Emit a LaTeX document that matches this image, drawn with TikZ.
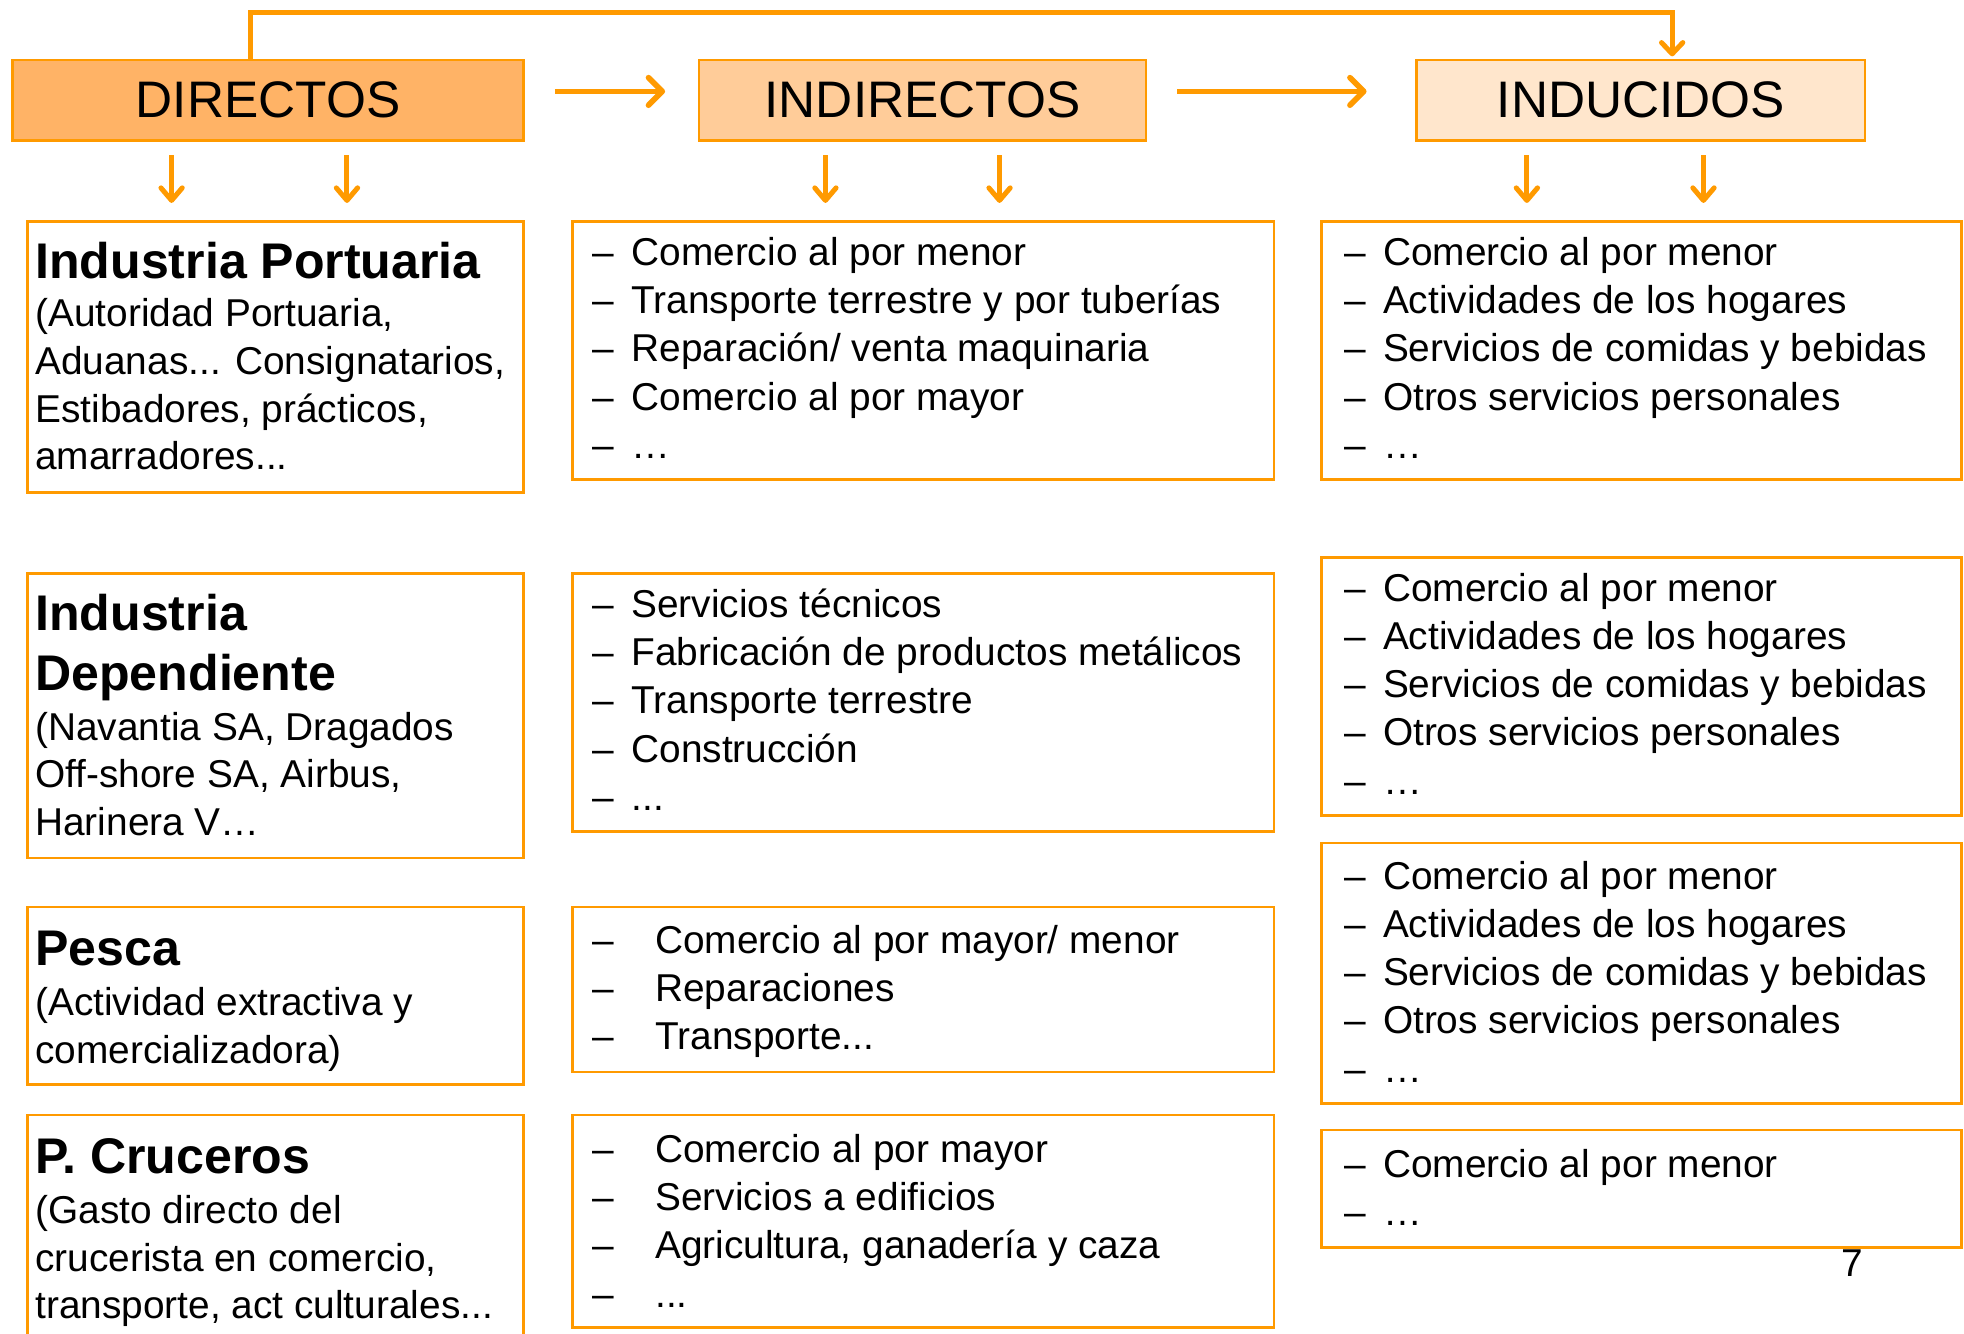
\documentclass[tikz,border=0pt]{standalone}
\usepackage{fontspec}
\setmainfont{Liberation Sans}
\usetikzlibrary{arrows.meta,calc}
\definecolor{org}{HTML}{FF9A00}
\definecolor{fA}{HTML}{FFB366}
\definecolor{fB}{HTML}{FFCC99}
\definecolor{fC}{HTML}{FFE6CC}
\newcommand\tdots{...}
\newcommand\mylines[5]{%
  \foreach[count=\i] \t in {#5}{\node[ln] (#1\i) at (#2,{#3+(\i-1)*#4}) {\t};}}
\newcommand\dlist[6]{%
  \foreach[count=\i] \t in {#6}{\node[ln] (#1\i) at (#2,{#3+(\i-1)*#4}) {\makebox[#5pt][l]{–}\t};}}
\begin{document}
\begin{tikzpicture}[x=1pt,y=-1pt,
  box/.style={draw=org,line width=2pt,inner sep=0pt,outer sep=0pt,anchor=north west},
  hdr/.style={box,fill=#1,font=\fontsize{41}{48}\selectfont},
  ln/.style={anchor=base west,inner sep=0pt,font=\fontsize{31}{37}\selectfont},
  ttl/.style={anchor=base west,inner sep=0pt,font=\fontsize{40}{48}\selectfont\bfseries},
  harr/.style={draw=org,line width=4.5pt,-{Straight Barb[round,length=11pt,width=22pt]}},
  varr/.style={draw=org,line width=4pt,-{Straight Barb[round,length=10pt,width=17pt]}}
]
\useasboundingbox (0,0) rectangle (1568,1065);
\clip (0,0) rectangle (1568,1065);
\fill[white] (0,0) rectangle (1568,1065);

% headers
\node[hdr=fA,minimum width=408pt,minimum height=64pt] (H1) at (10,48) {DIRECTOS};
\node[hdr=fB,minimum width=357pt,minimum height=64pt] (H2) at (558,48) {INDIRECTOS};
\node[hdr=fC,minimum width=358pt,minimum height=64pt] (H3) at (1131,48) {INDUCIDOS};

% boxes
\node[box,minimum width=396pt,minimum height=216pt] (L1) at (22,177) {};
\node[box,minimum width=396pt,minimum height=227pt] (L2) at (22,458) {};
\node[box,minimum width=396pt,minimum height=142pt] (L3) at (22,724) {};
\node[box,minimum width=396pt,minimum height=190pt] (L4) at (22,890) {};
\node[box,minimum width=560pt,minimum height=206pt] (M1) at (457,177) {};
\node[box,minimum width=560pt,minimum height=206pt] (M2) at (457,458) {};
\node[box,minimum width=560pt,minimum height=132pt] (M3) at (457,724) {};
\node[box,minimum width=560pt,minimum height=170pt] (M4) at (457,890) {};
\node[box,minimum width=511pt,minimum height=206pt] (R1) at (1055,177) {};
\node[box,minimum width=511pt,minimum height=206pt] (R2) at (1055,445) {};
\node[box,minimum width=511pt,minimum height=208pt] (R3) at (1055,673) {};
\node[box,minimum width=511pt,minimum height=94pt] (R4) at (1055,902) {};

% arrows
\draw[harr] ([xshift=25pt,yshift=7pt]H1.east) -- ([xshift=-27pt,yshift=7pt]H2.west);
\draw[harr] ([xshift=25pt,yshift=7pt]H2.east) -- ([xshift=-40pt,yshift=7pt]H3.west);
\draw[harr,line width=4pt,-{Straight Barb[round,length=9pt,width=17pt]}] ($(H1.north west)+(190,0)$) |- ($(H3.north west)+(204,-38)$) -- ($(H3.north west)+(204,-3)$);
\foreach \n/\a/\b in {H1/127/267,H2/101/240,H3/88/229}{
  \draw[varr] ($(\n.south west)+(\a,12)$) -- ($(\n.south west)+(\a,50)$);
  \draw[varr] ($(\n.south west)+(\b,12)$) -- ($(\n.south west)+(\b,50)$);
}

% left column
\node[ttl] (t1) at (28,222) {Industria Portuaria};
\mylines{la}{28}{261}{38}{{(Autoridad Portuaria,},{Aduanas\tdots{} Consignatarios,},{Estibadores, prácticos,},{amarradores\tdots}}
\node[ttl] (t2a) at (28,503) {Industria};
\node[ttl] (t2b) at (28,551) {Dependiente};
\mylines{lb}{28}{591}{38}{{(Navantia SA, Dragados},{Off-shore SA, Airbus,},{Harinera V…}}
\node[ttl] (t3) at (28,771) {Pesca};
\mylines{lc}{28}{811}{38}{{(Actividad extractiva y},{comercializadora)}}
\node[ttl] (t4) at (28,937) {P. Cruceros};
\mylines{ld}{28}{977}{38}{{(Gasto directo del},{crucerista en comercio,},{transporte, act culturales\tdots}}

% middle column
\dlist{ma}{473}{212}{38.5}{31}{{Comercio al por menor},{Transporte terrestre y por tuberías},{Reparación/ venta maquinaria},{Comercio al por mayor},{…}}
\dlist{mb}{473}{493}{38.5}{31}{{Servicios técnicos},{Fabricación de productos metálicos},{Transporte terrestre},{Construcción},{\tdots}}
\dlist{mc}{473}{761}{38.5}{50}{{Comercio al por mayor/ menor},{Reparaciones},{Transporte\tdots}}
\dlist{md}{473}{928}{38.5}{50}{{Comercio al por mayor},{Servicios a edificios},{Agricultura, ganadería y caza},{\tdots}}

% right column
\dlist{ra}{1073}{212}{38.5}{31}{{Comercio al por menor},{Actividades de los hogares},{Servicios de comidas y bebidas},{Otros servicios personales},{…}}
\dlist{rb}{1073}{480}{38.5}{31}{{Comercio al por menor},{Actividades de los hogares},{Servicios de comidas y bebidas},{Otros servicios personales},{…}}
\dlist{rc}{1073}{710}{38.5}{31}{{Comercio al por menor},{Actividades de los hogares},{Servicios de comidas y bebidas},{Otros servicios personales},{…}}
\dlist{rd}{1073}{940}{38.5}{31}{{Comercio al por menor},{…}}

\node[ln] (pg) at (1470,1019) {7};
\end{tikzpicture}
\end{document}
